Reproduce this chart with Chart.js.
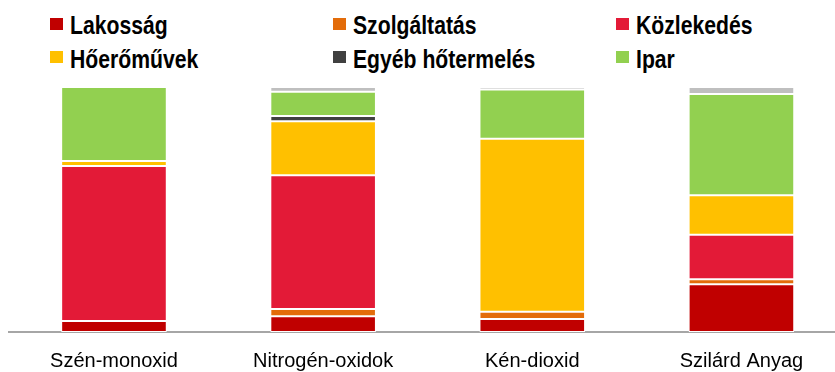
<!DOCTYPE html>
<html lang="hu">
<head>
<meta charset="utf-8">
<title>Légszennyező anyagok kibocsátása ágazatonként</title>
<script src="https://cdn.jsdelivr.net/npm/chart.js@4/dist/chart.umd.min.js"></script>
<style>
    html, body { margin: 0; padding: 0; background: #fff; overflow: hidden; }
    body { width: 835px; height: 372px; position: relative; }
    #chart { position: absolute; left: 0; top: 0; }
    .legend-item { position: absolute; height: 24px; line-height: 24px; white-space: nowrap; }
    .legend-item i { position: absolute; left: 0; top: 6.5px; width: 13px; height: 12px; }
    .legend-item span {
        position: absolute; left: 20px; top: 0;
        font: bold 25.5px 'Liberation Sans', Arial, sans-serif; color: #000;
        transform: scaleX(0.83); transform-origin: left center;
    }
</style>
</head>
<body>
<div id="legend"></div>
<canvas id="chart" width="850" height="372"></canvas>
<script>
    // share of each sector in the emission of each pollutant (%)
    const categories = ['Szén-monoxid', 'Nitrogén-oxidok', 'Kén-dioxid', 'Szilárd Anyag'];

    const lakossag     = [4.5, 6.4, 5.3, 19.5];
    const szolgaltatas = [0, 3.0, 3.0, 2.0];
    const kozlekedes   = [63.3, 54.6, 0, 18.2];
    const hoeromuvek   = [2.0, 22.0, 70.6, 16.1];
    const egyebHo      = [0, 2.2, 0, 0];
    const ipar         = [30.2, 9.9, 20.1, 41.3];
    const egyeb        = [0, 1.9, 1.0, 2.9];   // unlabelled remainder, not in legend

    const series = [
        { label: 'Lakosság', data: lakossag, color: '#C00000', legend: true },
        { label: 'Szolgáltatás', data: szolgaltatas, color: '#E36C0A', legend: true },
        { label: 'Közlekedés', data: kozlekedes, color: '#E31A37', legend: true },
        { label: 'Hőerőművek', data: hoeromuvek, color: '#FFC000', legend: true },
        { label: 'Egyéb hőtermelés', data: egyebHo, color: '#404040', legend: true },
        { label: 'Ipar', data: ipar, color: '#92D050', legend: true },
        { label: 'Egyéb', data: egyeb, color: '#BFBFBF', legend: false }
    ];

    // legend: three columns, two rows, filled row by row
    const legendCols = [50, 333, 616];
    const legendRows = [11.2, 44.7];
    const legendEl = document.getElementById('legend');
    series.filter(s => s.legend).forEach((s, i) => {
        const item = document.createElement('div');
        item.className = 'legend-item';
        item.style.left = legendCols[i % 3] + 'px';
        item.style.top = legendRows[Math.floor(i / 3)] + 'px';
        item.innerHTML = `<i style="background:${s.color}"></i><span>${s.label}</span>`;
        legendEl.appendChild(item);
    });

    new Chart(document.getElementById('chart'), {
        type: 'bar',
        data: {
            labels: categories,
            datasets: series.map(s => ({
                label: s.label,
                data: s.data,
                backgroundColor: s.color,
                borderColor: '#FFFFFF',
                borderWidth: 1,
                borderSkipped: false,
                barPercentage: 0.505,
                categoryPercentage: 1
            }))
        },
        options: {
            responsive: false,
            devicePixelRatio: 1,
            animation: false,
            layout: { padding: { left: 9.4, right: 4, top: 87, bottom: 0 } },
            plugins: { legend: { display: false }, tooltip: { enabled: false } },
            scales: {
                x: {
                    stacked: true,
                    grid: { display: false, drawTicks: false },
                    border: { display: true, color: '#A6A6A6', width: 2 },
                    ticks: {
                        color: '#000',
                        padding: 17,
                        font: { family: "'Liberation Sans', Arial, sans-serif", size: 20 }
                    },
                    afterFit: scale => { scale.height = 40; }
                },
                y: {
                    stacked: true,
                    display: false,
                    min: 0,
                    max: 100
                }
            }
        }
    });
</script>
</body>
</html>
